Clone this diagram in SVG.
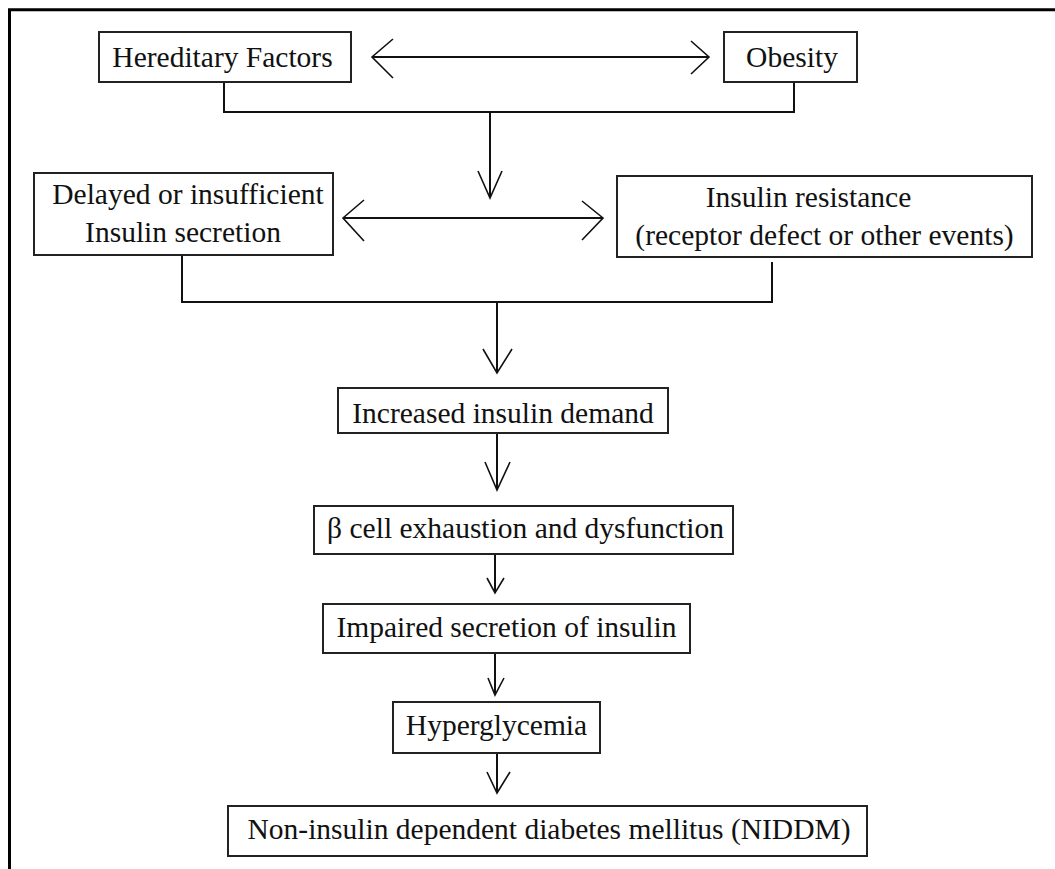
<svg xmlns="http://www.w3.org/2000/svg" width="1055" height="869" viewBox="0 0 1055 869">
<style>
.box{fill:#fff;stroke:#222;stroke-width:2}
.t{font-family:"Liberation Serif","Times New Roman",serif;font-size:29.5px;fill:#111;text-anchor:middle}
.c{fill:none;stroke:#111;stroke-width:2;stroke-linejoin:miter}
.h{fill:none;stroke:#111;stroke-width:1.6}
</style>
<rect width="1055" height="869" fill="#fff"/>
<path d="M9.5,869 V9.8 H1055" fill="none" stroke="#000" stroke-width="3"/>
<g id="connectors">
<path class="c" d="M372,57 H709"/>
<path class="h" d="M393,39 L372,57 L393,78"/>
<path class="h" d="M691,41 L709,57 L691,74"/>
<path class="c" d="M224,82 V112 H794 V82"/>
<path class="c" d="M490,112 V198"/>
<path class="h" d="M478,171 L490,198 L502,171"/>
<path class="c" d="M343,218 H603"/>
<path class="h" d="M364,200 L343,218 L364,241"/>
<path class="h" d="M582,201 L603,218 L582,240"/>
<path class="c" d="M182,255 V302 H772 V262"/>
<path class="c" d="M497,302 V373"/>
<path class="h" d="M483,349 L497,373 L512,349"/>
<path class="c" d="M497,433 V490"/>
<path class="h" d="M485,462 L497,490 L510,462"/>
<path class="c" d="M495,554 V593"/>
<path class="h" d="M487,578 L495,593 L504,578"/>
<path class="c" d="M495,653 V695"/>
<path class="h" d="M488,678 L495,695 L504,678"/>
<path class="c" d="M497,753 V793"/>
<path class="h" d="M487,772 L497,793 L510,772"/>
</g>
<g id="hereditary">
<rect class="box" x="99" y="32" width="252" height="50"/>
<text class="t" x="222.5" y="67">Hereditary Factors</text>
</g>
<g id="obesity">
<rect class="box" x="724" y="32" width="133" height="50"/>
<text class="t" x="792" y="67">Obesity</text>
</g>
<g id="delayed">
<rect class="box" x="34" y="173" width="299" height="82"/>
<text class="t" x="188" y="204">Delayed or insufficient</text>
<text class="t" x="183" y="242">Insulin secretion</text>
</g>
<g id="resistance">
<rect class="box" x="617" y="176" width="415" height="81"/>
<text class="t" x="808.5" y="207">Insulin resistance</text>
<text class="t" x="824.5" y="245">(receptor defect or other events)</text>
</g>
<g id="demand">
<rect class="box" x="338" y="388" width="330" height="45"/>
<text class="t" x="503" y="423">Increased insulin demand</text>
</g>
<g id="beta">
<rect class="box" x="314" y="506" width="419" height="48"/>
<text class="t" x="525.5" y="538">β cell exhaustion and dysfunction</text>
</g>
<g id="impaired">
<rect class="box" x="323" y="604" width="367" height="49"/>
<text class="t" x="506.5" y="637">Impaired secretion of insulin</text>
</g>
<g id="hyperglycemia">
<rect class="box" x="393" y="702" width="207" height="51"/>
<text class="t" x="496.5" y="735">Hyperglycemia</text>
</g>
<g id="niddm">
<rect class="box" x="228" y="806" width="639" height="50"/>
<text class="t" x="549" y="839">Non-insulin dependent diabetes mellitus (NIDDM)</text>
</g>
</svg>
